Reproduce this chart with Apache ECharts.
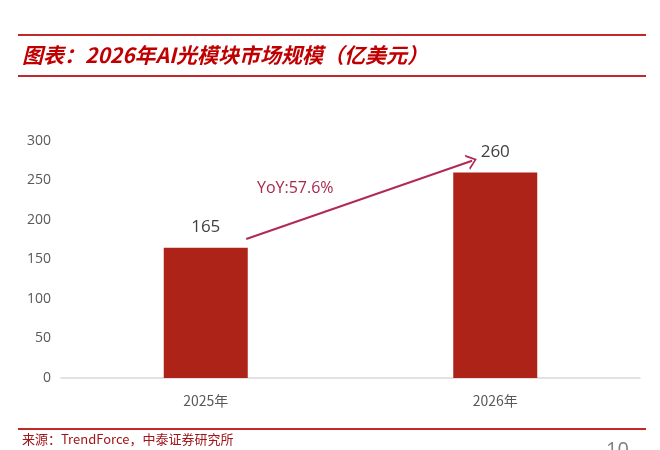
<!DOCTYPE html>
<html>
<head>
<meta charset="utf-8">
<script src="https://cdn.jsdelivr.net/npm/echarts@6/dist/echarts.min.js"></script>
<style>
  html, body { margin: 0; padding: 0; background: #fff; }
  #chart { width: 660px; height: 450px; }
</style>
</head>
<body>
<div id="chart"></div>
<script>
// 数据
const years = ['2025年', '2026年'];
const marketSize = [165, 260];
const yoyText = 'YoY:57.6%';
// 箭头起止（x 以类目带为单位，y 为数值）
const arrowFrom = [0.64, 176];
const arrowTo = [1.42, 275];

const chart = echarts.init(document.getElementById('chart'));

const redLine = (y) => ({
    type: 'line',
    shape: { x1: 18, y1: y, x2: 646, y2: y },
    style: { stroke: '#c0282a', lineWidth: 2 }
});

const option = {
    backgroundColor: '#fff',
    animation: false,
    grid: { left: 61, right: 20, top: 141, bottom: 72 },
    xAxis: [{
        type: 'category',
        data: years,
        axisTick: { show: false },
        axisLine: { lineStyle: { color: '#d9d9d9', width: 1.5 } },
        axisLabel: { color: '#595959', fontSize: 14, margin: 16, fontFamily: 'Noto Sans CJK SC' }
    }, {
        // 辅助轴：用于画增长箭头
        type: 'value',
        min: 0,
        max: 2,
        show: false
    }],
    yAxis: {
        type: 'value',
        min: 0,
        max: 300,
        interval: 50,
        axisLine: { show: false },
        axisTick: { show: false },
        splitLine: { show: false },
        axisLabel: { color: '#595959', fontSize: 14, margin: 10, fontFamily: 'Open Sans' }
    },
    series: [{
        type: 'bar',
        data: marketSize,
        barWidth: 84,
        itemStyle: { color: '#ae2318' },
        label: {
            show: true,
            position: 'top',
            distance: 12,
            color: '#404040',
            fontSize: 17,
            fontFamily: 'Open Sans'
        }
    }, {
        type: 'scatter',
        xAxisIndex: 1,
        data: [],
        markLine: {
            silent: true,
            symbol: ['none', 'path://M0,10 L5,0 L10,10 L8.6,10 L5,2.6 L1.4,10 Z'],
            symbolSize: [16, 10],
            lineStyle: { color: '#b02a55', width: 2, type: 'solid' },
            label: { show: false },
            data: [[{ coord: arrowFrom }, { coord: arrowTo }]]
        }
    }],
    graphic: [
        redLine(35),
        redLine(76),
        redLine(429),
        {
            type: 'text',
            left: 22,
            top: 45,
            style: {
                text: '图表：2026年AI光模块市场规模（亿美元）',
                fill: '#c00000',
                font: 'italic bold 21px "Noto Sans CJK SC"'
            }
        },
        {
            type: 'text',
            left: 257,
            top: 180,
            style: {
                text: yoyText,
                fill: '#a8294f',
                font: '16px "Open Sans"'
            }
        },
        {
            type: 'text',
            left: 22,
            top: 433,
            style: {
                text: '来源：TrendForce，中泰证券研究所',
                fill: '#a0161b',
                font: '13px "Noto Sans CJK SC"'
            }
        },
        {
            type: 'text',
            left: 606,
            top: 440,
            style: {
                text: '10',
                fill: '#7f7f7f',
                font: '20px "Open Sans"'
            }
        }
    ]
};

chart.setOption(option);
</script>
</body>
</html>
